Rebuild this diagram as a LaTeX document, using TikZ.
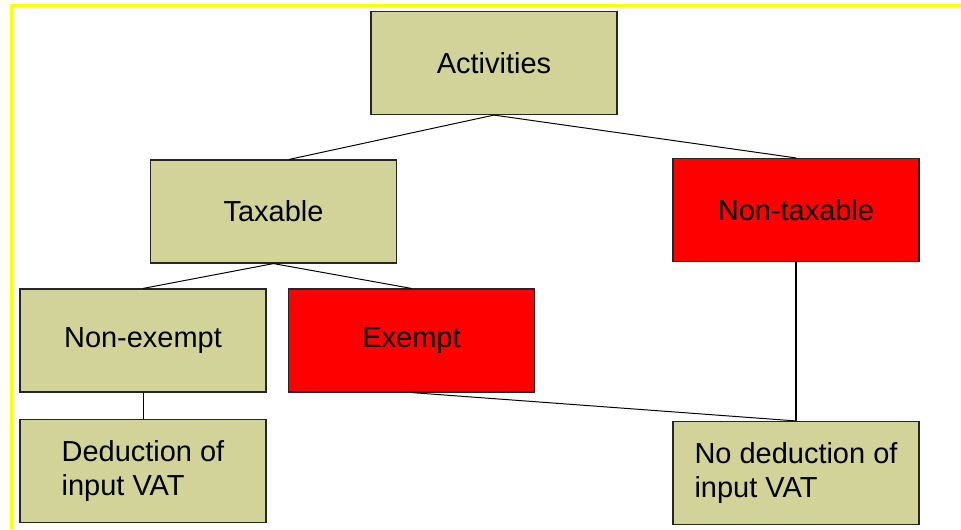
\documentclass[tikz,border=0pt]{standalone}
\usepackage{fontspec}
\setmainfont{Liberation Sans}
\definecolor{olivebox}{RGB}{210,211,152}
\definecolor{redbox}{RGB}{255,0,0}
\definecolor{frameyellow}{RGB}{255,255,0}
\tikzset{
  box/.style={draw=black!85, line width=0.8pt, minimum width=6.15cm, minimum height=2.575cm,
    font=\fontsize{20.6pt}{24.2pt}\selectfont, inner sep=0pt},
  okbox/.style={box, fill=olivebox},
  nobox/.style={box, fill=redbox},
  link/.style={draw=black, line width=0.7pt}
}
\begin{document}
\begin{tikzpicture}[x=0.025cm, y=-0.025cm]
        \useasboundingbox (0,0) rectangle (961,529);

        % Rahmen
        \draw[frameyellow, line width=0.075cm] (11.5,529) -- (11.5,5.5) -- (961,5.5);

        % Ebene 1
        \node[okbox] (act) at (494, 63) {Activities};

        % Ebene 2
        \node[okbox] (tax) at (273.5, 211.5) {Taxable};
        \node[nobox] (nontax) at (796, 210) {Non-taxable};

        % Ebene 3
        \node[okbox] (nonex) at (143, 340.5) {Non-exempt};
        \node[nobox] (ex) at (411.5, 340.5) {Exempt};

        % Ergebnis
        \node[okbox, align=left] (ded) at (143, 471) {Deduction of\\input VAT};
        \node[okbox, align=left] (noded) at (796, 473) {No deduction of\\input VAT};

        % Verbindungen
        \draw[link] (act.south) -- ([xshift=0.39cm]tax.north);
        \draw[link] (act.south) -- (nontax.north);
        \draw[link] (tax.south) -- (nonex.north);
        \draw[link] (tax.south) -- (ex.north);
        \draw[link] (nonex.south) -- (ded.north);
        \draw[link] (ex.south) -- (noded.north);
        \draw[link, line width=1.4pt] (nontax.south) -- (noded.north);

    \end{tikzpicture}
\end{document}
